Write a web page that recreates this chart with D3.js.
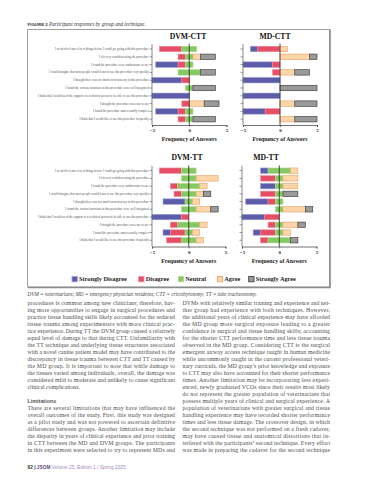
<!DOCTYPE html>
<html>
<head>
<meta charset="utf-8">
<script src="https://cdn.jsdelivr.net/npm/d3@7"></script>
<style>
  body { margin: 0; background: #fff; }
</style>
</head>
<body>
<div id="page"></div>
<script>
const width = 369, height = 480;
const serif = "'Liberation Serif', 'Times New Roman', serif";
const sans = "'Liberation Sans', Arial, sans-serif";

// Likert levels and statements (top to bottom)
const levels = ["Strongly Disagree", "Disagree", "Neutral", "Agree", "Strongly Agree"];
const levelFill = ["#5c5ca8", "#e64d66", "#86c862", "#fcd5a9", "#9a9a9a"];
const levelStroke = ["#9c9cdc", "#f28a9a", "#b0dd94", "#eaa060", "#333333"];

const statements = [
  "I needed to learn a lot of things before I could get going with this procedure",
  "I felt very confident using the procedure",
  "I found the procedure very cumbersome to use",
  "I would imagine that most people would learn to use this procedure very quickly",
  "I thought there was too much inconsistency in this procedure",
  "I found the various functions in this procedure were well integrated",
  "I think that I would need the support of a technical person to be able to use this procedure",
  "I thought the procedure was easy to use",
  "I found the procedure unnecessarily complex",
  "I think that I would like to use this procedure frequently"
];

// counts per statement: [SD, D, N, A, SA]
const dvmCtt = [[0,3,2,0,0],[0,1,1,1,2],[3,1,1,0,0],[0,0,3,0,2],[4,1,0,0,0],
                [0,0,1,0,3],[5,0,0,0,0],[0,1,0,2,2],[3,1,1,0,0],[0,1,1,0,3]];
const mdCtt  = [[1,3,0,1,0],[0,0,0,4,1],[4,1,0,0,0],[0,1,0,2,2],[5,0,0,0,0],
                [0,0,0,0,5],[5,0,0,0,0],[0,0,0,2,3],[3,2,0,0,0],[0,0,0,2,3]];
const dvmTt  = [[0,3,2,0,0],[0,0,2,3,0],[0,1,3,1,0],[0,1,2,1,1],[3,0,1,1,0],
                [0,0,2,2,1],[4,1,0,0,0],[0,1,3,1,0],[1,2,1,1,0],[0,2,2,1,0]];
const mdTt   = [[1,0,3,1,0],[0,2,1,2,0],[2,0,1,2,0],[0,2,1,0,2],[3,1,1,0,0],
                [0,0,1,3,1],[3,2,0,0,0],[0,1,1,2,1],[1,2,1,1,0],[0,1,3,0,1]];
const xTicks = [-5, 0, 5];

const leftLines = [
  "procedures is common among new clinicians; therefore, hav-",
  "ing more opportunities to engage in surgical procedures and",
  "practice tissue handling skills likely accounted for the reduced",
  "tissue trauma among experimenters with more clinical prac-",
  "tice experience. During TT the DVM group caused a relatively",
  "equal level of damage to that during CTT. Unfamiliarity with",
  "the TT technique and underlying tissue structures associated",
  "with a novel canine patient model may have contributed to the",
  "discrepancy in tissue trauma between CTT and TT caused by",
  "the MD group. It is important to note that while damage to",
  "the tissues varied among individuals, overall, the damage was",
  "considered mild to moderate and unlikely to cause significant",
  "clinical complications."
];
const leftLines2 = [
  "There are several limitations that may have influenced the",
  "overall outcomes of the study. First, this study was designed",
  "as a pilot study and was not powered to ascertain definitive",
  "differences between groups. Another limitation may include",
  "the disparity in years of clinical experience and prior training",
  "in CTT between the MD and DVM groups. The participants",
  "in this experiment were selected to try to represent MDs and"
];
const rightLines = [
  "DVMs with relatively similar training and experience and nei-",
  "ther group had experience with both techniques. However,",
  "the additional years of clinical experience may have afforded",
  "the MD group more surgical exposure leading to a greater",
  "confidence in surgical and tissue handling skills; accounting",
  "for the shorter CTT performance time and less tissue trauma",
  "observed in the MD group. Considering CTT is the surgical",
  "emergent airway access technique taught in human medicine",
  "while uncommonly taught in the current professional veteri-",
  "nary curricula, the MD group\u2019s prior knowledge and exposure",
  "to CTT may also have accounted for their shorter performance",
  "times. Another limitation may be incorporating less experi-",
  "enced, newly graduated VCOs since their results most likely",
  "do not represent the greater population of veterinarians that",
  "possess multiple years of clinical and surgical experience. A",
  "population of veterinarians with greater surgical and tissue",
  "handling experience may have recorded shorter performance",
  "times and less tissue damage. The crossover design, in which",
  "the second technique was not performed on a fresh cadaver,",
  "may have caused tissue and anatomical distortions that in-",
  "terfered with the participants\u2019 second technique. Every effort",
  "was made in preparing the cadaver for the second technique"
];

const svg = d3.select("#page").append("svg")
    .attr("width", width)
    .attr("height", height)
    .style("display", "block");

svg.append("rect").attr("width", width).attr("height", height).attr("fill", "#fff");

// figure caption
const cap = svg.append("text").attr("x", 27.5).attr("y", 25.5).attr("font-size", 5.2).attr("fill", "#333");
cap.append("tspan").attr("font-family", sans).attr("font-weight", "bold").attr("font-size", 4.4).text("FIGURE 2 ");
cap.append("tspan").attr("font-family", serif).attr("font-style", "italic").text(" Participant responses by group and technique.");

// frame
svg.append("rect")
    .attr("x", 27.5).attr("y", 29.5).attr("width", 302).attr("height", 257.5)
    .attr("fill", "none").attr("stroke", "#a0a0a0").attr("stroke-width", 1);
svg.append("path")
    .attr("d", "M330,29.5V287.5H28")
    .attr("fill", "none").attr("stroke", "#8c8c8c").attr("stroke-width", 1.6);

const panels = [
  { title: "DVM-CTT", data: dvmCtt, x0: 152, x1: 226.5, y0: 45.1, y1: 123.1, axisY: 125, tx: 188, ty: 38.8, labels: true },
  { title: "MD-CTT",  data: mdCtt,  x0: 243, x1: 317,   y0: 45.1, y1: 123.1, axisY: 125, tx: 275, ty: 38.8, labels: false },
  { title: "DVM-TT",  data: dvmTt,  x0: 152, x1: 225.5, y0: 166.8, y1: 244.1, axisY: 246.5, tx: 187, ty: 159.7, labels: true },
  { title: "MD-TT",   data: mdTt,   x0: 242, x1: 316.5, y0: 166.8, y1: 244.1, axisY: 246.5, tx: 266, ty: 159.7, labels: false }
];

panels.forEach(drawPanel);

function drawPanel(p) {
  const x = d3.scaleLinear().domain([-5, 5]).range([p.x0, p.x1]);
  const y = d3.scaleBand().domain(statements).range([p.y0, p.y1])
      .paddingInner(0.3).paddingOuter(0.15);
  const g = svg.append("g");

  g.append("text")
      .attr("x", p.tx).attr("y", p.ty)
      .attr("text-anchor", "middle")
      .attr("font-family", serif).attr("font-weight", "bold").attr("font-size", 7.7)
      .attr("fill", "#111")
      .text(p.title);

  // diverging segments, neutral split across zero
  const segs = [];
  p.data.forEach((c, i) => {
    let start = -(c[0] + c[1] + c[2] / 2);
    c.forEach((v, k) => {
      if (v > 0) segs.push({ row: statements[i], level: k, a: start, b: start + v });
      start += v;
    });
  });

  g.selectAll("rect.seg")
      .data(segs)
      .enter().append("rect")
      .attr("class", "seg")
      .attr("x", d => x(d.a))
      .attr("y", d => y(d.row))
      .attr("width", d => x(d.b) - x(d.a))
      .attr("height", y.bandwidth())
      .attr("fill", d => levelFill[d.level])
      .attr("stroke", d => levelStroke[d.level])
      .attr("stroke-width", 0.6);

  // y axis
  const yAxis = d3.axisLeft(y).tickSize(2.5).tickPadding(0.8);
  if (!p.labels) yAxis.tickFormat("");
  const ya = g.append("g").attr("transform", `translate(${p.x0},0)`).call(yAxis);
  ya.select(".domain").attr("d", `M-0,${p.y0 - 1}V${p.axisY}`).attr("stroke", "#555").attr("stroke-width", 0.7);
  ya.selectAll(".tick line").attr("stroke", "#555").attr("stroke-width", 0.6);
  ya.selectAll(".tick text")
      .attr("font-family", serif).attr("font-size", 3.1).attr("fill", "#555");

  // x axis
  const xa = g.append("g").attr("transform", `translate(0,${p.axisY})`)
      .call(d3.axisBottom(x).tickValues(xTicks).tickSize(2).tickPadding(1.5).tickFormat(d3.format("d")));
  xa.select(".domain").attr("stroke", "#333").attr("stroke-width", 0.7);
  xa.selectAll(".tick line").attr("stroke", "#333").attr("stroke-width", 0.6);
  xa.selectAll(".tick text")
      .attr("font-family", serif).attr("font-weight", "bold").attr("font-size", 5).attr("fill", "#222");

  // zero line
  g.append("line")
      .attr("x1", x(0)).attr("x2", x(0))
      .attr("y1", p.y0 - 1.5).attr("y2", p.axisY)
      .attr("stroke", "#1e2a1e").attr("stroke-width", 0.8);

  g.append("text")
      .attr("x", (p.x0 + p.x1) / 2).attr("y", p.axisY + 16)
      .attr("text-anchor", "middle")
      .attr("font-family", serif).attr("font-weight", "bold").attr("font-size", 5.8)
      .attr("fill", "#222")
      .text("Frequency of Answers");
}

// legend
const legendX = [72, 138.7, 178.3, 217.3, 248.7];
const lg = svg.append("g").selectAll("g")
    .data(levels)
    .enter().append("g")
    .attr("transform", (d, i) => `translate(${legendX[i]},276.5)`);
lg.append("rect")
    .attr("width", 5.3).attr("height", 5.3)
    .attr("fill", (d, i) => levelFill[i])
    .attr("stroke", (d, i) => levelStroke[i])
    .attr("stroke-width", 0.8);
lg.append("text")
    .attr("x", 7).attr("y", 4.9)
    .attr("font-family", serif).attr("font-weight", "bold").attr("font-size", 6.3)
    .attr("fill", "#222")
    .text(d => d);

// abbreviations
svg.append("text")
    .attr("x", 27.5).attr("y", 296)
    .attr("font-family", serif).attr("font-style", "italic").attr("font-size", 5.2)
    .attr("fill", "#444")
    .text("DVM = veterinarians; MD = emergency physician residents; CTT = cricothyrotomy; TT = tube tracheostomy.");

// body text columns
const lead = 7, colW = 147.5;
function column(lines, x0, y0, lastRagged) {
  svg.append("g").selectAll("text")
      .data(lines)
      .enter().append("text")
      .attr("x", x0)
      .attr("y", (d, i) => y0 + i * lead)
      .attr("font-family", serif).attr("font-size", 5.8)
      .attr("fill", "#4d4d4d")
      .attr("textLength", (d, i) => (lastRagged && i === lines.length - 1) ? null : colW)
      .attr("lengthAdjust", "spacing")
      .text(d => d);
}
column(leftLines, 27.5, 305, true);
svg.append("text")
    .attr("x", 27.5).attr("y", 305 + 14 * lead)
    .attr("font-family", sans).attr("font-weight", "bold").attr("font-size", 5.4)
    .attr("fill", "#555")
    .text("Limitations");
column(leftLines2, 27.5, 305 + 15 * lead, false);
column(rightLines, 182.5, 305, false);

// footer
const ft = svg.append("text").attr("x", 27.5).attr("y", 468.5)
    .attr("font-family", sans).attr("font-size", 4.8);
ft.append("tspan").attr("font-weight", "bold").attr("fill", "#333").text("82  |  ");
ft.append("tspan").attr("font-weight", "bold").attr("fill", "#6a4a8c").text("JSOM ");
ft.append("tspan").attr("fill", "#a08abc").text(" Volume 25, Edition 1 / Spring 2025");
</script>
</body>
</html>
